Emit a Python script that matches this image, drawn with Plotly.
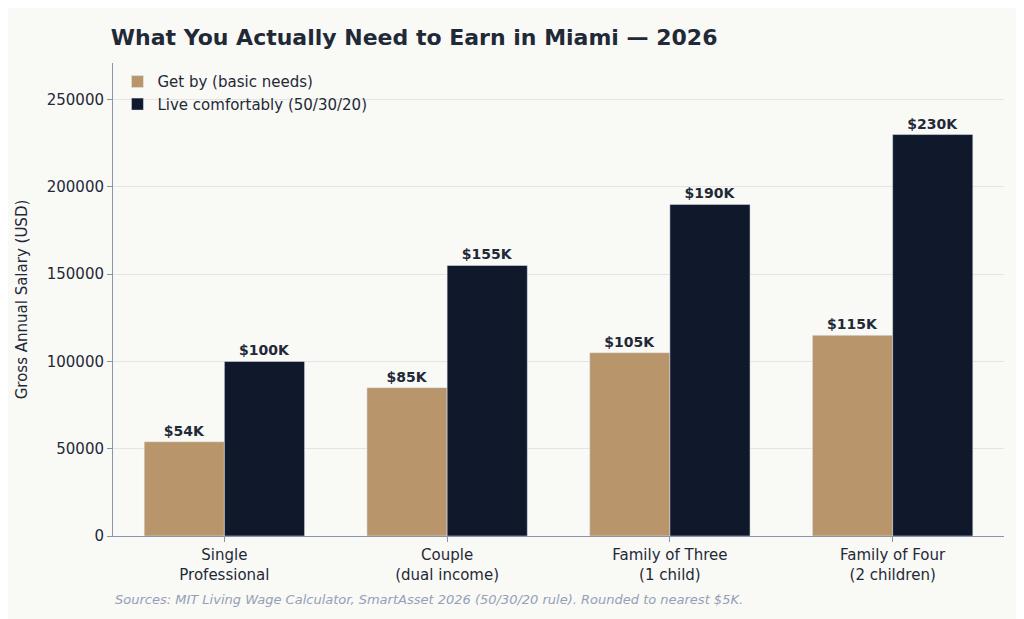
import plotly.graph_objects as go

categories = ["Single<br>Professional", "Couple<br>(dual income)", "Family of Three<br>(1 child)", "Family of Four<br>(2 children)"]
get_by = [54000, 85000, 105000, 115000]
comfortable = [100000, 155000, 190000, 230000]
get_by_labels = ["<b>$54K</b>", "<b>$85K</b>", "<b>$105K</b>", "<b>$115K</b>"]
comfortable_labels = ["<b>$100K</b>", "<b>$155K</b>", "<b>$190K</b>", "<b>$230K</b>"]

bg = "#f9f9f6"
ink = "#1f2937"

fig = go.Figure()
fig.add_bar(x=categories, y=get_by, name="Get by (basic needs)", marker_color="#b8956a",
            text=get_by_labels, textposition="outside",
            textfont=dict(size=14, color=ink, family="DejaVu Sans"), cliponaxis=False)
fig.add_bar(x=categories, y=comfortable, name="Live comfortably (50/30/20)", marker_color="#10182b",
            text=comfortable_labels, textposition="outside",
            textfont=dict(size=14, color=ink, family="DejaVu Sans"), cliponaxis=False)

fig.update_layout(
    barmode="group", bargap=0.28, bargroupgap=0,
    autosize=True,
    paper_bgcolor=bg, plot_bgcolor=bg,
    font=dict(family="DejaVu Sans", size=15, color=ink),
    title=dict(text="<b>What You Actually Need to Earn in Miami — 2026</b>",
               x=0.102, xanchor="left", y=0.965, font=dict(size=22, color=ink)),
    margin=dict(l=105, r=12, t=55, b=91),
    legend=dict(x=0.005, y=0.995, xanchor="left", yanchor="top", bgcolor="rgba(0,0,0,0)",
                font=dict(size=15)),
)
fig.update_yaxes(range=[0, 271000], tickformat="d", title_text="Gross Annual Salary (USD)",
                 title_font=dict(size=15), showgrid=True, gridcolor="#e4e4e4",
                 showline=True, linecolor="#8a94ad", ticks="outside", tickcolor="#8a94ad",
                 zeroline=False, dtick=50000)
fig.update_xaxes(showline=True, linecolor="#8a94ad", ticks="outside", tickcolor="#8a94ad")
fig.add_annotation(text="<i>Sources: MIT Living Wage Calculator, SmartAsset 2026 (50/30/20 rule). Rounded to nearest $5K.</i>",
                   xref="paper", yref="paper", x=0, y=-0.155, xanchor="left", showarrow=False,
                   font=dict(size=13, color="#94a0b8"))

fig.write_html("out.html", default_width="100%", default_height="100vh",
               config={"responsive": True})
